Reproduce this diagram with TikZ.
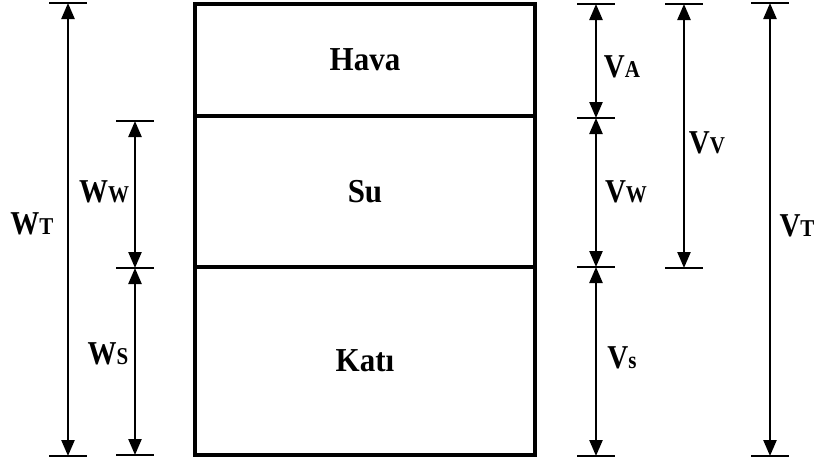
\documentclass[tikz,border=0pt]{standalone}
\usepackage{fontspec}
\setmainfont{Liberation Serif}
\usetikzlibrary{arrows.meta}
\newcommand\dimlbl[2]{\scalebox{1}[1.15]{#1{\fontsize{21}{21}\selectfont #2}}}
\newcommand\laytxt[1]{\scalebox{1}[1.08]{#1}}
\begin{document}
\begin{tikzpicture}[x=1pt,y=-1pt,
  dim/.style={line width=2.4pt,{Triangle[length=16pt,width=13pt]}-{Triangle[length=16pt,width=13pt]}},
  tick/.style={line width=2pt},
  layer/.style={draw,line width=4pt,minimum width=340pt,inner sep=0pt,font=\bfseries\fontsize{31}{31}\selectfont},
  lab/.style={font=\bfseries\fontsize{29}{29}\selectfont,inner sep=0pt}
]
\useasboundingbox (0,0) rectangle (820,463);
% layers
\node[layer,minimum height=112pt] (hava) at (365,60) {\laytxt{Hava}};
\node[layer,minimum height=151pt] (su) at (365,191.5) {\laytxt{Su}};
\node[layer,minimum height=188pt] (kati) at (365,361) {\laytxt{Katı}};
% coordinates
\coordinate (wt1) at (68,3);   \coordinate (wt2) at (68,456);
\coordinate (ww1) at (135,121); \coordinate (ww2) at (135,268); \coordinate (ww3) at (135,455);
\coordinate (va1) at (596,4);  \coordinate (va2) at (596,118); \coordinate (va3) at (596,267); \coordinate (va4) at (596,456);
\coordinate (vv1) at (684,4);  \coordinate (vv2) at (684,268);
\coordinate (vt1) at (770,3);  \coordinate (vt2) at (770,456);
% ticks
\foreach \c in {wt1,wt2,ww1,ww2,ww3,va1,va2,va3,va4,vv1,vv2,vt1,vt2}
  \draw[tick] ([xshift=-19pt]\c) -- ([xshift=19pt]\c);
% dimension arrows
\draw[dim] (wt1) -- (wt2);
\draw[dim] (ww1) -- (ww2);
\draw[dim] (ww2) -- (ww3);
\draw[dim] (va1) -- (va2);
\draw[dim] (va2) -- (va3);
\draw[dim] (va3) -- (va4);
\draw[dim] (vv1) -- (vv2);
\draw[dim] (vt1) -- (vt2);
% labels
\node[lab] (lwt) at (32,224) {\dimlbl{W}{T}};
\node[lab] (lww) at (104,192) {\dimlbl{W}{W}};
\node[lab] (lws) at (108,354) {\dimlbl{W}{S}};
\node[lab] (lva) at (622,67) {\dimlbl{V}{A}};
\node[lab] (lvv) at (707,143) {\dimlbl{V}{V}};
\node[lab] (lvw) at (626,192) {\dimlbl{V}{W}};
\node[lab] (lvs) at (622,358) {\dimlbl{V}{s}};
\node[lab] (lvt) at (797,226) {\dimlbl{V}{T}};
\end{tikzpicture}
\end{document}
